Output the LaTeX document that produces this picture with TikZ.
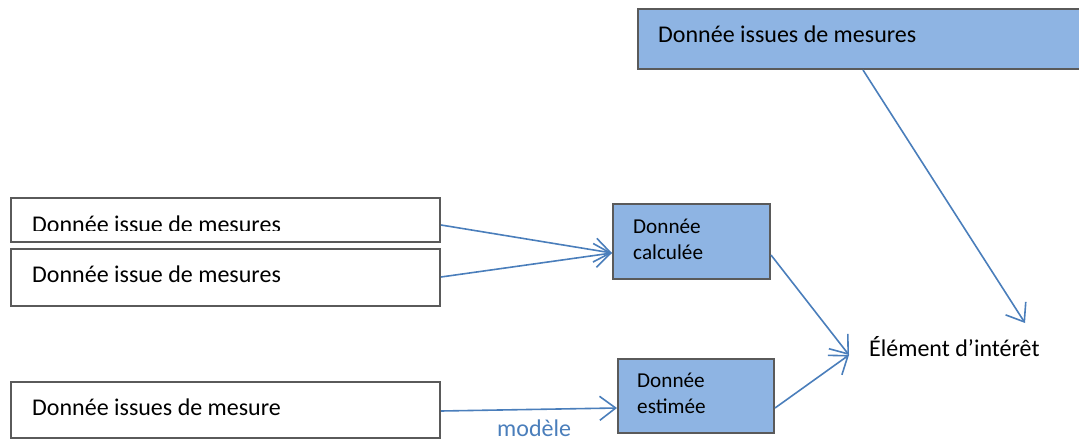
\documentclass[tikz,border=0pt]{standalone}
\usepackage{fontspec}
\setmainfont{Carlito}
\usetikzlibrary{arrows.meta,calc}
\definecolor{boxblue}{HTML}{8EB4E3}
\definecolor{boxline}{HTML}{5A5A5A}
\definecolor{arrblue}{HTML}{4A7EBB}
\begin{document}
\begin{tikzpicture}[x=1pt,y=-1pt,
  wbox/.style={draw=boxline,line width=2pt,fill=white,anchor=north west,inner sep=0pt},
  bbox/.style={draw=boxline,line width=2pt,fill=boxblue,anchor=north west,inner sep=0pt},
  bigtxt/.style={font=\fontsize{24}{28}\selectfont,inner sep=0pt},
  smalltxt/.style={font=\fontsize{21.2}{25.5}\selectfont,inner sep=0pt,align=left},
  arr/.style={draw=arrblue,line width=1.6pt,-{Straight Barb[length=16pt,width=24pt,line width=1.6pt]}}]
\useasboundingbox (0,0) rectangle (1079,441);
% top box
\node[bbox,minimum width=460pt,minimum height=60pt] (top) at (637,8) {};
\node[bigtxt,anchor=base west] (toptxt) at (658,43) {Donnée issues de mesures};
% left boxes
\node[wbox,minimum width=429pt,minimum height=44pt] (b1) at (10,197) {};
\begin{scope}
\clip (12,199) rectangle (437,230.8);
\node[bigtxt,anchor=base west] (b1txt) at (32,232) {Donnée issue de mesures};
\end{scope}
\node[wbox,minimum width=429pt,minimum height=57pt] (b2) at (10,248) {};
\node[bigtxt,anchor=base west] (b2txt) at (32,282) {Donnée issue de mesures};
\node[wbox,minimum width=429pt,minimum height=56pt] (b3) at (10,381) {};
\node[bigtxt,anchor=base west] (b3txt) at (32,415) {Donnée issues de mesure};
% middle boxes
\node[bbox,minimum width=157pt,minimum height=75pt] (calc) at (612,203) {};
\node[smalltxt,anchor=north west] (calctxt) at (633,219) {Donnée\\calculée};
\node[bbox,minimum width=156pt,minimum height=74pt] (est) at (617,358) {};
\node[smalltxt,anchor=north west] (esttxt) at (637,373) {Donnée\\estimée};
% element
\node[bigtxt,anchor=base west] (elem) at (869,356) {Élément d’intérêt};
\node[bigtxt,anchor=base west,text=arrblue] (modele) at (497,436) {modèle};
% tips
\coordinate (tipA) at (849,355);
\coordinate (tipB) at (1025,323);
% connectors
\draw[arr] ($(b1.north east)+(0,28)$) -- ($(calc.north west)+(0,50)$);
\draw[arr] ($(b2.north east)+(0,29)$) -- ($(calc.north west)+(0,50)$);
\draw[arr] ($(b3.north east)+(0,30)$) -- ($(est.north west)+(0,50)$);
\draw[arr] ($(calc.north east)+(0,52)$) -- (tipA);
\draw[arr] ($(est.north east)+(0,50)$) -- (tipA);
\draw[arr] ($(top.south west)+(226,0)$) -- (tipB);
\end{tikzpicture}
\end{document}
